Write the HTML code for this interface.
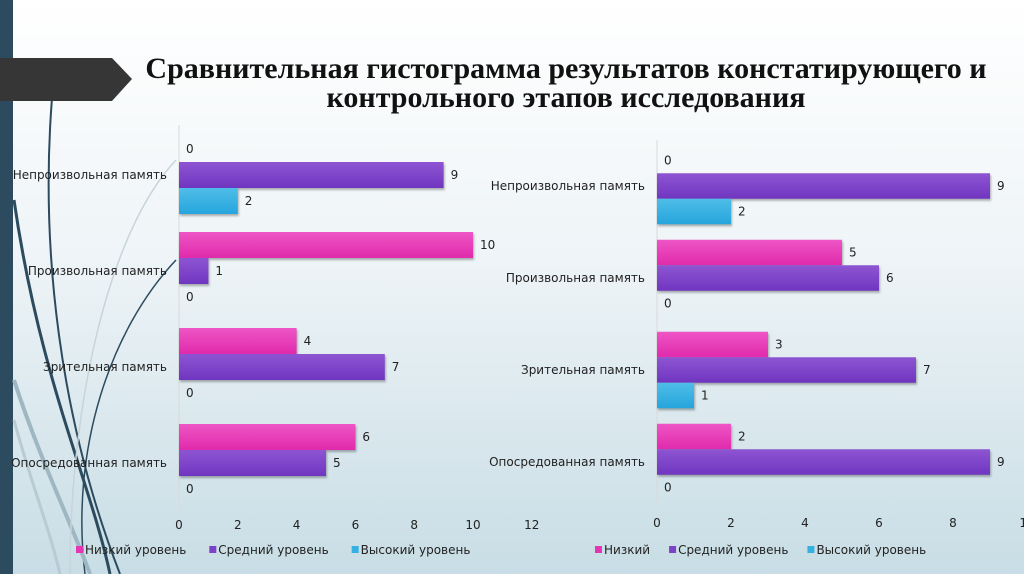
<!DOCTYPE html>
<html><head><meta charset="utf-8">
<style>
html,body{margin:0;padding:0;width:1024px;height:574px;overflow:hidden;}
body{background:linear-gradient(180deg,#ffffff 0%,#eef4f7 45%,#c8dde5 100%);font-family:"DejaVu Sans",sans-serif;}
svg{position:absolute;left:0;top:0;}
</style></head><body>
<svg id="s" width="1024" height="574">
<defs>
<linearGradient id="gp" x1="0" y1="0" x2="0" y2="1"><stop offset="0" stop-color="#ee55c4"/><stop offset="1" stop-color="#e02aac"/></linearGradient>
<linearGradient id="gm" x1="0" y1="0" x2="0" y2="1"><stop offset="0" stop-color="#8d55d2"/><stop offset="1" stop-color="#7035c0"/></linearGradient>
<linearGradient id="gh" x1="0" y1="0" x2="0" y2="1"><stop offset="0" stop-color="#4fbde8"/><stop offset="1" stop-color="#25a5dc"/></linearGradient>
</defs>
<rect x="0" y="0" width="13" height="574" fill="#2c4b5f"/>
<g fill="none">
<path d="M52 98 C40 250 60 420 120 574" stroke="#2c4b5f" stroke-width="2"/>
<path d="M14 200 C40 380 90 480 110 574" stroke="#2c4b5f" stroke-width="3"/>
<path d="M176 260 C110 330 70 450 85 574" stroke="#2c4b5f" stroke-width="1.5"/>
<path d="M14 380 C40 460 70 520 90 574" stroke="#9fb7c2" stroke-width="4"/>
<path d="M176 160 C110 230 70 400 70 574" stroke="#c7d4da" stroke-width="1.5"/>
<path d="M14 420 C30 480 50 530 60 574" stroke="#b8cbd3" stroke-width="3"/>
</g>
<polygon points="0,58 112,58 132,79 112,101 0,101" fill="#363636"/>
<text x="566" y="78" text-anchor="middle" font-family="Liberation Serif" font-weight="bold" font-size="30" fill="#111">Сравнительная гистограмма результатов констатирующего и</text>
<text x="566" y="107" text-anchor="middle" font-family="Liberation Serif" font-weight="bold" font-size="30" fill="#111">контрольного этапов исследования</text>
<g id="charts"></g>
</svg>
<script>
const categories=["Непроизвольная память","Произвольная память","Зрительная память","Опосредованная память"];
const leftLow=[0,10,4,6];
const leftMid=[9,1,7,5];
const leftHigh=[2,0,0,0];
const rightLow=[0,5,3,2];
const rightMid=[9,6,7,9];
const rightHigh=[2,0,1,0];
const leftTicks=["0","2","4","6","8","10","12"];
const rightTicks=["0","2","4","6","8","10"];
const leftLegend=["Низкий уровень","Средний уровень","Высокий уровень"];
const rightLegend=["Низкий","Средний уровень","Высокий уровень"];

const NS="http://www.w3.org/2000/svg";
const root=document.getElementById('charts');
function mk(t,a,p){const e=document.createElementNS(NS,t);for(const k in a)e.setAttribute(k,a[k]);(p||root).appendChild(e);return e;}
function chart(cfg){
  const g=mk('g',{});
  
  
  const x=v=>cfg.x0+v*cfg.ppu;
  const y=i=>cfg.c0+i*cfg.step;
  const ax=mk('line',{x1:cfg.x0,y1:cfg.top,x2:cfg.x0,y2:cfg.bot,stroke:'#d9d9d9','stroke-width':1},g);
  
  
  const series=[[cfg.low,'url(#gp)'],[cfg.mid,'url(#gm)'],[cfg.high,'url(#gh)']];
  categories.forEach((c,i)=>{
    const cy=y(i);
    const t=mk('text',{x:cfg.x0-12,y:cy+4,'text-anchor':'end','font-size':12,fill:'#222'},g);t.textContent=c;
    
    
    series.forEach((s,k)=>{
      const v=s[0][i];const by=cy-cfg.bh*1.5+k*cfg.bh;
      if(v>0){
        const r=mk('rect',{x:cfg.x0,y:by,width:x(v)-cfg.x0,height:cfg.bh,fill:s[1],style:'filter:drop-shadow(1px 2px 1px rgba(0,0,0,0.3))'},g);
        
        
      }
      const l=mk('text',{x:x(v)+7,y:by+cfg.bh/2+4,'font-size':12,fill:'#222'},g);l.textContent=String(v);
      
      
    });
  });
  cfg.ticks.forEach((tk,j)=>{
    const t=mk('text',{x:x(Number(tk)),y:cfg.ty,'text-anchor':'middle','font-size':12,fill:'#222'},g);t.textContent=tk;
    
    
  });
  const cols=['#e535b5','#7c42c8','#35b0e2'];
  let lx=cfg.legX;
  cfg.legend.forEach((n,k)=>{
    const sq=mk('rect',{x:lx,y:546,width:7,height:7,fill:cols[k]},g);
    
    
    const t=mk('text',{x:lx+9,y:554,'font-size':12,fill:'#222'},g);t.textContent=n;
    
    
    lx+=t.getComputedTextLength()+cfg.legGap;
  });
}
chart({name:'left-chart',x0:179,ppu:29.4,c0:175,step:96,bh:26,top:125,bot:510,ty:529,low:leftLow,mid:leftMid,high:leftHigh,ticks:leftTicks,legend:leftLegend,legX:76,legGap:32});
chart({name:'right-chart',x0:657,ppu:37,c0:186,step:92,bh:25.5,top:140,bot:505,ty:527,low:rightLow,mid:rightMid,high:rightHigh,ticks:rightTicks,legend:rightLegend,legX:595,legGap:28});
</script>
</body></html>
